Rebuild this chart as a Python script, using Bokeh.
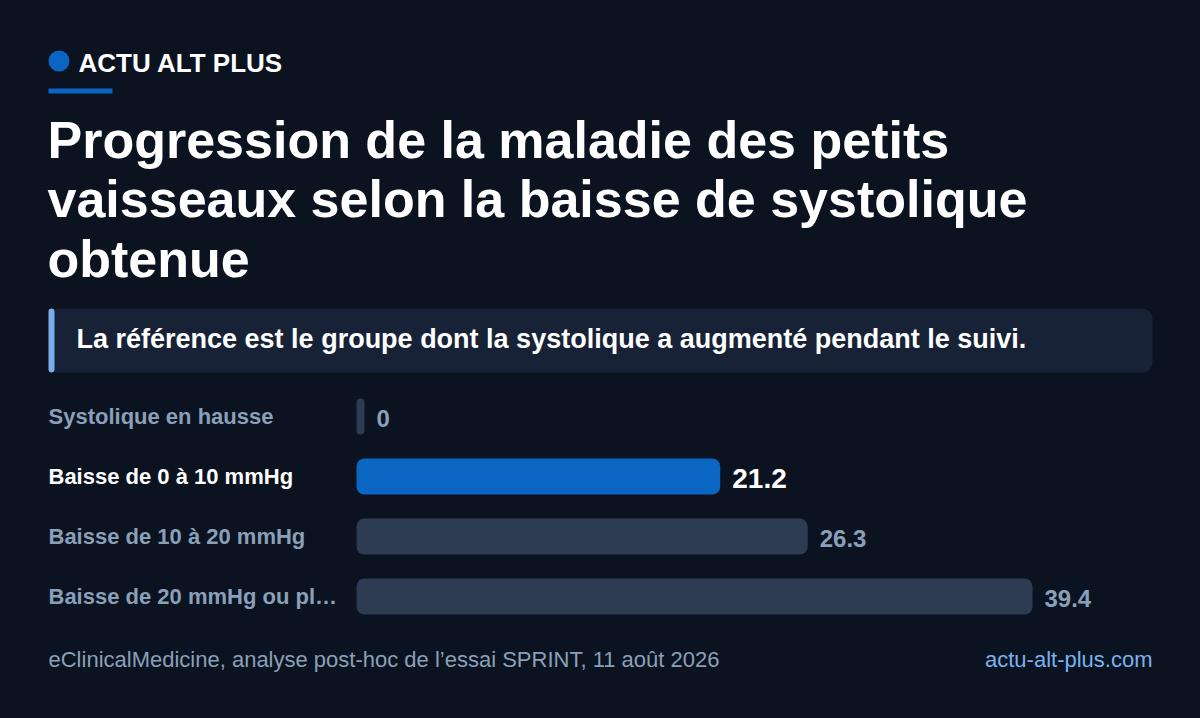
from bokeh.plotting import figure
from bokeh.models import Range1d, ColumnDataSource, GlobalInlineStyleSheet
from bokeh.core.properties import value
from bokeh.embed import file_html
from bokeh.resources import INLINE

# ---------------- data ----------------
brand = "ACTU ALT PLUS"
title_lines = [
    "Progression de la maladie des petits",
    "vaisseaux selon la baisse de systolique",
    "obtenue",
]
note = "La référence est le groupe dont la systolique a augmenté pendant le suivi."
categories = [
    "Systolique en hausse",
    "Baisse de 0 à 10 mmHg",
    "Baisse de 10 à 20 mmHg",
    "Baisse de 20 mmHg ou pl…",
]
values = [0, 21.2, 26.3, 39.4]
value_labels = ["0", "21.2", "26.3", "39.4"]
highlight = 1
source_text = "eClinicalMedicine, analyse post-hoc de l’essai SPRINT, 11 août 2026"
site = "actu-alt-plus.com"

# ---------------- style ----------------
BG = "#0b1220"
CARD = "#182236"
BLUE = "#0a66c2"
GRAY_BAR = "#2d3b53"
MUTED = "#8aa0b9"
WHITE = "#ffffff"
ACCENT = "#78aeea"
LINK = "#7ab2ee"
FONT = value("Liberation Sans")

W, H = 1200, 718
BAR_LEFT = 356          # px of value 0
BAR_MAX_PX = 676        # px length of the largest bar
MIN_BAR_PX = 8
ROW0, ROW_GAP, BAR_H = 416, 60, 36
scale = BAR_MAX_PX / max(values)
x_start = -BAR_LEFT / scale
x_end = x_start + W / scale

p = figure(width=W, height=H, x_range=Range1d(x_start, x_end), y_range=Range1d(H, 0),
           min_border=0, toolbar_location=None, output_backend="svg",
           x_axis_location=None, y_axis_location=None,
           background_fill_color=BG, border_fill_color=BG, outline_line_color=None)
p.grid.visible = False
p.extra_x_ranges = {"px": Range1d(0, W)}
p.stylesheets = [GlobalInlineStyleSheet(css="html, body { background: %s; }" % BG)]

# ---------------- header ----------------
p.scatter(x=[58.5], y=[60.5], size=21, marker="circle", color=BLUE, line_color=None, x_range_name="px")
p.text(x=[78], y=[62.5], text=[brand], x_range_name="px", text_font=FONT, text_font_style="bold",
       text_font_size="26px", text_color=WHITE, text_baseline="middle")
p.quad(left=[48], right=[112], top=[88], bottom=[93], color=BLUE, line_color=None, x_range_name="px")

title_src = ColumnDataSource(dict(
    x=[47] * len(title_lines),
    y=[139 + 59.5 * i for i in range(len(title_lines))],
    t=title_lines))
p.text(x="x", y="y", text="t", source=title_src, x_range_name="px", text_font=FONT,
       text_font_style="bold", text_font_size="52px", text_color=WHITE, text_baseline="middle")

# ---------------- callout ----------------
p.quad(left=[48], right=[1152], top=[308], bottom=[372], color=CARD, line_color=None,
       border_radius=10, x_range_name="px")
p.quad(left=[48], right=[54], top=[308], bottom=[372], color=ACCENT, line_color=None,
       border_radius=3, x_range_name="px")
p.text(x=[76], y=[338], text=[note], x_range_name="px", text_font=FONT, text_font_style="bold",
       text_font_size="27px", text_color=WHITE, text_baseline="middle")

# ---------------- bars ----------------
n = len(categories)
ys = [ROW0 + ROW_GAP * i for i in range(n)]
shown = [max(v, MIN_BAR_PX / scale) for v in values]
bar_colors = [BLUE if i == highlight else GRAY_BAR for i in range(n)]
lab_colors = [WHITE if i == highlight else MUTED for i in range(n)]
val_sizes = ["28px" if i == highlight else "24px" for i in range(n)]

small = [i for i in range(n) if values[i] * scale < 2 * 8]
big = [i for i in range(n) if i not in small]

def sub(idx):
    return ColumnDataSource(dict(
        y=[ys[i] for i in idx], right=[shown[i] for i in idx], c=[bar_colors[i] for i in idx]))

p.hbar(y="y", left=0, right="right", height=BAR_H, color="c", line_color=None,
       border_radius=8, source=sub(big))
p.hbar(y="y", left=0, right="right", height=BAR_H, color="c", line_color=None,
       border_radius=4, source=sub(small))

rows = ColumnDataSource(dict(
    y=ys, ym=[y + 2 for y in ys], cat=categories, right=shown, lab=value_labels,
    lc=lab_colors, vs=val_sizes, lx=[48] * n))
p.text(x="lx", y="y", text="cat", source=rows, x_range_name="px", text_font=FONT,
       text_font_style="bold", text_font_size="22px", text_color="lc", text_baseline="middle")
p.text(x="right", y="ym", text="lab", source=rows, x_offset=12, text_font=FONT,
       text_font_style="bold", text_font_size="vs", text_color="lc", text_baseline="middle")

# ---------------- footer ----------------
p.text(x=[48], y=[659], text=[source_text], x_range_name="px", text_font=FONT,
       text_font_size="22px", text_color=MUTED, text_baseline="middle")
p.text(x=[1152], y=[659], text=[site], x_range_name="px", text_font=FONT,
       text_font_size="22px", text_color=LINK, text_align="right", text_baseline="middle")

open("out.html", "w").write(file_html(p, INLINE))
